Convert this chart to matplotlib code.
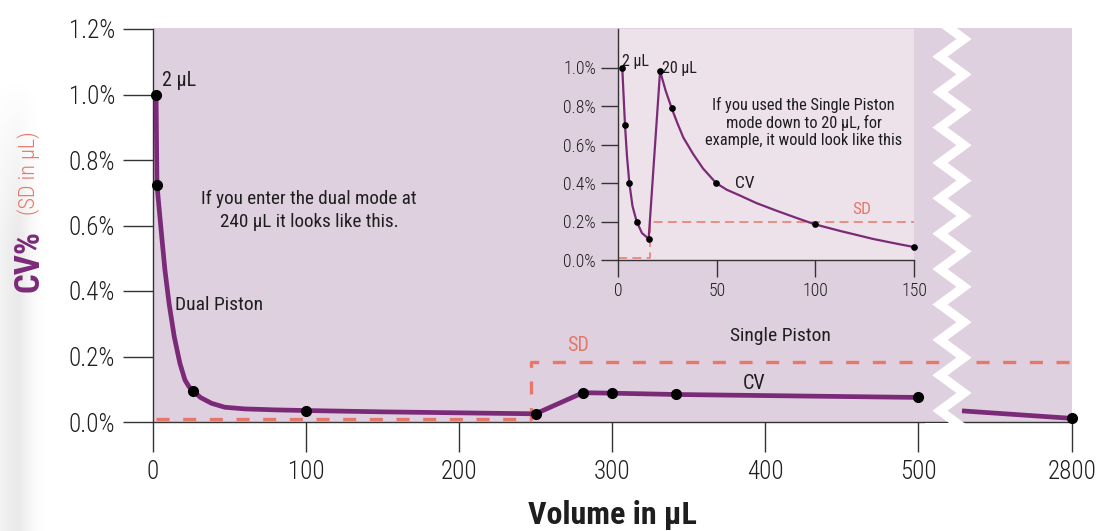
import numpy as np
import matplotlib
matplotlib.use("Agg")
import matplotlib.pyplot as plt
from matplotlib import font_manager
from matplotlib.patches import Rectangle
from matplotlib.lines import Line2D

# ---------------- data ----------------
# main chart, CV% curve (dual piston part)
dual_x = [2, 2.3, 2.6, 3.7, 5.7, 7.8, 10.5, 13.9, 17.6, 20.9, 23.5, 26, 31, 38.3, 47, 60, 80, 100, 150, 200, 250]
dual_y = [1.0, 0.86, 0.724, 0.668, 0.566, 0.464, 0.362, 0.26, 0.179, 0.128, 0.108, 0.096, 0.075, 0.057, 0.045, 0.040, 0.037, 0.035, 0.031, 0.028, 0.025]
# single piston part
single_x = [250, 281, 300, 342, 500]
single_y = [0.025, 0.0895, 0.088, 0.084, 0.075]
# measured points (markers)
pts_x = [2, 2.6, 26, 100, 250, 281, 300, 342, 500]
pts_y = [1.0, 0.724, 0.096, 0.035, 0.025, 0.0895, 0.088, 0.084, 0.075]
# segment after the axis break
brk_x = [2700, 2800]
brk_y = [0.034, 0.011]
brk_pt_x = [2800]
brk_pt_y = [0.011]
# SD (dashed)
sd_x = [2, 247, 247, 520]
sd_y = [0.01, 0.01, 0.182, 0.182]
sd2_x = [2713, 2800]
sd2_y = [0.182, 0.182]

main_xticks = [0, 100, 200, 300, 400, 500]
main_xticklabels = ["0", "100", "200", "300", "400", "500"]
brk_xticks = [2800]
brk_xticklabels = ["2800"]
main_yticks = [0, 0.2, 0.4, 0.6, 0.8, 1.0, 1.2]
main_yticklabels = ["0.0%", "0.2%", "0.4%", "0.6%", "0.8%", "1.0%", "1.2%"]

# inset chart
in_left_x = [2, 2.7, 3.4, 4.4, 5.6, 7.2, 9.3, 12, 15.4]
in_left_y = [1.0, 0.85, 0.70, 0.54, 0.40, 0.28, 0.20, 0.14, 0.11]
in_right_x = [15.4, 21.2, 24, 27.1, 30, 33, 38, 43, 49.6, 55, 61.7, 70, 80, 90, 99.8, 112.5, 129.4, 143, 150]
in_right_y = [0.11, 0.982, 0.88, 0.788, 0.71, 0.636, 0.55, 0.475, 0.40, 0.365, 0.335, 0.296, 0.257, 0.22, 0.185, 0.151, 0.109, 0.081, 0.0675]
in_pts_x = [2, 3.4, 5.6, 9.3, 15.4, 21.2, 27.1, 49.6, 99.8, 150]
in_pts_y = [1.0, 0.70, 0.40, 0.20, 0.11, 0.982, 0.788, 0.40, 0.185, 0.0675]
in_sd_x = [0, 16, 16, 150]
in_sd_y = [0.01, 0.01, 0.2, 0.2]
in_xticks = [0, 50, 100, 150]
in_xticklabels = ["0", "50", "100", "150"]
in_yticks = [0, 0.2, 0.4, 0.6, 0.8, 1.0]
in_yticklabels = ["0.0%", "0.2%", "0.4%", "0.6%", "0.8%", "1.0%"]

# ---------------- style ----------------
names = {f.name for f in font_manager.fontManager.ttflist}
FONT = "DejaVu Sans"
for cand in ["Liberation Sans Narrow", "Roboto Condensed", "DejaVu Sans Condensed",
             "Open Sans Condensed", "Roboto"]:
    if cand in names:
        FONT = cand
        break
plt.rcParams["font.family"] = [FONT, "DejaVu Sans"]
plt.rcParams["lines.scale_dashes"] = False

BG = "#dfd0df"
BG_IN = "#ede2ea"
PURPLE = "#7b2a78"
SALMON = "#e5786b"
AX = "#333333"
TXT = "#1e1e1e"
TW = "light"

W, H = 1109, 531
def fx(px):
    return px / W
def fy(py):
    return 1 - py / H

fig = plt.figure(figsize=(W / 100, H / 100), dpi=100)
fig.patch.set_facecolor("white")

# left page shadow
sh_w = 60
xs = np.arange(sh_w)
ys = np.arange(H)
ax_prof = np.where(xs < 16, 0.08 + 0.06 * xs / 16, 0.14 * np.exp(-((xs - 16) / 15.0) ** 2))
v_prof = np.clip((ys - 80) / 160.0, 0, 1)
alpha = v_prof[:, None] * ax_prof[None, :]
img = np.zeros((H, sh_w, 4))
img[..., :3] = 0.4
img[..., 3] = alpha
ax_sh = fig.add_axes([0, 0, sh_w / W, 1], zorder=-10)
ax_sh.imshow(img, aspect="auto", extent=(0, sh_w, H, 0))
ax_sh.axis("off")

# plot background
fig.add_artist(Rectangle((fx(153), fy(422)), (1072 - 153) / W, (422 - 28) / H,
                         transform=fig.transFigure, facecolor=BG, edgecolor="none", zorder=-5))

ax1 = fig.add_axes([fx(153), fy(422), (948.6 - 153) / W, (422 - 29) / H])
ax2 = fig.add_axes([fx(962), fy(422), 110 / W, (422 - 29) / H])
axi = fig.add_axes([fx(618.3), fy(260), (914 - 618.3) / W, (260 - 29) / H])

for a in (ax1, ax2):
    a.set_facecolor("none")
    a.set_ylim(0, 1.2)
    for s in ("top", "right"):
        a.spines[s].set_visible(False)
    a.spines["left"].set_color(AX)
    a.spines["bottom"].set_color(AX)
    a.spines["left"].set_linewidth(1.0)
    a.spines["bottom"].set_linewidth(1.0)
    a.tick_params(axis="both", direction="out", length=21.6, width=1.0, color=AX,
                  labelsize=18, labelcolor=TXT)
    a.tick_params(axis="y", pad=5.5)
    a.tick_params(axis="x", pad=6)

ax1.set_xlim(0, 520)
ax1.set_xticks(main_xticks)
ax1.set_xticklabels(main_xticklabels, fontweight=TW)
ax1.set_yticks(main_yticks)
ax1.set_yticklabels(main_yticklabels, fontweight=TW)

ax2.set_xlim(2700, 2800)
ax2.set_xticks(brk_xticks)
ax2.set_xticklabels(brk_xticklabels, fontweight=TW)
ax2.spines["left"].set_visible(False)
ax2.set_yticks([])

# SD dashed lines
ax1.plot(sd_x, sd_y, color=SALMON, lw=2.4, dashes=(9.4, 9.8), dash_capstyle="butt", zorder=2)
ax2.plot(sd2_x, sd2_y, color=SALMON, lw=2.4, dashes=(9.4, 9.8), dash_capstyle="butt", zorder=2)

# CV lines
ax1.plot(dual_x, dual_y, color=PURPLE, lw=3.4, solid_capstyle="round", solid_joinstyle="round", zorder=3)
ax1.plot(single_x, single_y, color=PURPLE, lw=3.4, solid_capstyle="round", zorder=3)
ax1.plot(pts_x, pts_y, "o", color="black", ms=7, zorder=4, clip_on=False)
ax2.plot(brk_x, brk_y, color=PURPLE, lw=3.4, solid_capstyle="butt", zorder=3, clip_on=False)
ax2.plot(brk_pt_x, brk_pt_y, "o", color="black", ms=7, zorder=4, clip_on=False)

# main annotations
ax1.text(5.9, 1.044, "2 \u03bcL", fontsize=14.5, color=TXT, ha="left", va="center")
ax1.text(102, 0.646, "If you enter the dual mode at\n240 \u03bcL it looks like this.",
         fontsize=13.8, color=TXT, ha="center", va="center", linespacing=1.3)
ax1.text(14.4, 0.357, "Dual Piston", fontsize=14, color=TXT, ha="left", va="center")
ax1.text(278, 0.235, "SD", fontsize=14.5, color=SALMON, ha="center", va="center")
ax1.text(410, 0.263, "Single Piston", fontsize=14, color=TXT, ha="center", va="center")
ax1.text(393, 0.119, "CV", fontsize=14.5, color=TXT, ha="center", va="center")

# inset
axi.set_facecolor(BG_IN)
axi.set_xlim(0, 150)
axi.set_ylim(0, 1.2)
for s in ("top", "right"):
    axi.spines[s].set_visible(False)
for s in ("left", "bottom"):
    axi.spines[s].set_color(AX)
    axi.spines[s].set_linewidth(1.0)
axi.set_xticks(in_xticks)
axi.set_xticklabels(in_xticklabels, fontweight=TW)
axi.set_yticks(in_yticks)
axi.set_yticklabels(in_yticklabels, fontweight=TW)
axi.tick_params(axis="both", direction="out", length=12.5, width=1.0, color=AX,
                labelsize=12.8, labelcolor=TXT)
axi.tick_params(axis="y", pad=3.5)
axi.tick_params(axis="x", pad=3.5)

axi.plot(in_sd_x, in_sd_y, color=SALMON, lw=1.1, dashes=(6.5, 3.8), zorder=2)
axi.plot(in_left_x, in_left_y, color=PURPLE, lw=1.6, solid_joinstyle="round", zorder=3)
axi.plot(in_right_x, in_right_y, color=PURPLE, lw=1.6, solid_joinstyle="round", zorder=3)
axi.plot(in_pts_x, in_pts_y, "o", color="black", ms=3.8, zorder=4, clip_on=False)

axi.text(1.9, 1.03, "2 \u03bcL", fontsize=11.5, color=TXT, ha="left", va="center")
axi.text(22.2, 0.997, "20 \u03bcL", fontsize=11.5, color=TXT, ha="left", va="center")
axi.text(94.1, 0.714, "If you used the Single Piston\nmode down to 20 \u03bcL, for\nexample, it would look like this",
         fontsize=11.8, color=TXT, ha="center", va="center", linespacing=1.15)
axi.text(64.2, 0.40, "CV", fontsize=12.5, color=TXT, ha="center", va="center")
axi.text(123.6, 0.26, "SD", fontsize=12.5, color=SALMON, ha="center", va="center")

# axis break zigzag
zz_x, zz_y = [], []
for k in range(-1, 12):
    zz_x += [940, 964]
    zz_y += [21.3 + 35.4 * k, 39 + 35.4 * k]
zz = Line2D([fx(v) for v in zz_x], [fy(v) for v in zz_y], transform=fig.transFigure,
            color="white", lw=6.5, solid_joinstyle="miter", zorder=20)
fig.add_artist(zz)
fig.add_artist(Rectangle((fx(900), fy(28)), 200 / W, 28 / H, transform=fig.transFigure,
                         facecolor="white", edgecolor="none", zorder=21))
fig.add_artist(Rectangle((fx(925), fy(450)), 36 / W, 27.5 / H, transform=fig.transFigure,
                         facecolor="white", edgecolor="none", zorder=21))

# axis titles
fig.text(fx(29), fy(261), "CV%", rotation=90, fontsize=25, fontweight="bold",
         color=PURPLE, ha="center", va="center")
fig.text(fx(29), fy(173.5), "(SD in \u03bcL)", rotation=90, fontsize=16, fontweight=TW,
         color=SALMON, ha="center", va="center")
fig.text(fx(612), fy(515), "Volume in \u03bcL", fontsize=23, fontweight="bold",
         color=TXT, ha="center", va="center")

fig.savefig("out.png", dpi=100)
